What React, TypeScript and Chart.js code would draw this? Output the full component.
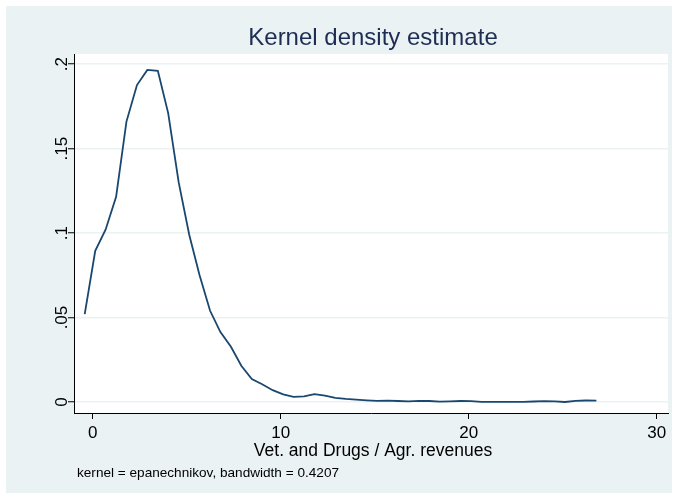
import React, { useEffect, useRef } from "react";
import { Chart, registerables } from "chart.js";

Chart.register(...registerables);

const xGrid = [
  -0.43, 0.13, 0.68, 1.24, 1.79, 2.35, 2.9, 3.46, 4.01, 4.57,
  5.13, 5.68, 6.24, 6.79, 7.35, 7.9, 8.46, 9.01, 9.57, 10.13,
  10.68, 11.24, 11.79, 12.35, 12.9, 13.46, 14.01, 14.57, 15.12, 15.68,
  16.24, 16.79, 17.35, 17.9, 18.46, 19.01, 19.57, 20.12, 20.68, 21.23,
  21.79, 22.35, 22.9, 23.46, 24.01, 24.57, 25.12, 25.68, 26.23, 26.79,
];

const density = [
  0.052, 0.0895, 0.102, 0.1215, 0.166, 0.1876, 0.1966, 0.196, 0.171, 0.13,
  0.099, 0.075, 0.054, 0.0414, 0.0327, 0.0215, 0.0136, 0.0105, 0.007, 0.0045,
  0.0031, 0.0033, 0.0047, 0.0038, 0.0025, 0.0018, 0.0014, 0.001, 0.0007, 0.0008,
  0.0006, 0.0004, 0.0007, 0.0006, 0.0002, 0.0004, 0.0006, 0.0005, 0.0001, 0.0001,
  0.0001, 0.0001, 0.0001, 0.0003, 0.0005, 0.0004, 0.0, 0.0007, 0.0009, 0.0008,
];

const yTicks = [0, 0.05, 0.1, 0.15, 0.2];
const yTickLabels = ["0", ".05", ".1", ".15", ".2"];
const xTicks = [0, 10, 20, 30];

const titleText = "Kernel density estimate";
const xTitleText = "Vet. and Drugs / Agr. revenues";
const noteText = "kernel = epanechnikov, bandwidth = 0.4207";

const FONT = "Arial, 'Liberation Sans', Helvetica, sans-serif";
const BG = "#eaf2f3";
const LINE = "#1a476f";

export default function App() {
  const ref = useRef<HTMLCanvasElement>(null);

  useEffect(() => {
    if (!ref.current) return;
    const bgPlugin = {
      id: "stataBg",
      beforeDraw(chart: any) {
        const { ctx, chartArea } = chart;
        ctx.save();
        ctx.fillStyle = "#ffffff";
        ctx.fillRect(0, 0, chart.width, chart.height);
        ctx.fillStyle = BG;
        ctx.fillRect(6, 6, chart.width - 11, chart.height - 11);
        ctx.fillStyle = "#ffffff";
        ctx.fillRect(chartArea.left, chartArea.top, chartArea.right - chartArea.left, chartArea.bottom - chartArea.top);
        ctx.restore();
      },
    };
    const textPlugin = {
      id: "stataText",
      afterDraw(chart: any) {
        const { ctx, chartArea } = chart;
        const ys = chart.scales.y;
        ctx.save();
        ctx.fillStyle = "#000000";
        ctx.font = `17px ${FONT}`;
        ctx.textAlign = "center";
        ctx.textBaseline = "middle";
        yTicks.forEach((v, i) => {
          const py = ys.getPixelForValue(v);
          ctx.save();
          ctx.translate(62, py);
          ctx.rotate(-Math.PI / 2);
          ctx.fillText(yTickLabels[i], 0, 0);
          ctx.restore();
        });
        const cx = (chartArea.left + chartArea.right) / 2 + 2;
        ctx.fillStyle = "#1e2d53";
        ctx.font = `24px ${FONT}`;
        ctx.fillText(titleText, cx, 38);
        ctx.fillStyle = "#000000";
        ctx.font = `17.5px ${FONT}`;
        ctx.fillText(xTitleText, cx, 451);
        ctx.font = `13.6px ${FONT}`;
        ctx.textAlign = "left";
        ctx.fillText(noteText, 77, 473);
        ctx.restore();
      },
    };

    const chart = new Chart(ref.current, {
      type: "scatter",
      data: {
        datasets: [
          {
            data: xGrid.map((x, i) => ({ x, y: density[i] })),
            showLine: true,
            borderColor: LINE,
            borderWidth: 1.8,
            pointRadius: 0,
            fill: false,
          },
        ],
      },
      options: {
        animation: false,
        responsive: false,
        maintainAspectRatio: false,
        devicePixelRatio: 1,
        layout: { padding: { left: 0, top: 54, right: 9, bottom: 0 } },
        plugins: { legend: { display: false }, tooltip: { enabled: false }, title: { display: false } },
        scales: {
          x: {
            type: "linear",
            min: -1.0,
            max: 30.6,
            afterBuildTicks: (s: any) => {
              s.ticks = xTicks.map((v) => ({ value: v }));
            },
            afterFit: (s: any) => {
              s.height = 85;
            },
            ticks: {
              color: "#000000",
              font: { family: FONT, size: 17 },
              padding: 4,
              maxRotation: 0,
              autoSkip: false,
              callback: (v: any) => String(v),
            },
            grid: { drawOnChartArea: false, tickColor: "#000000", tickLength: 6, tickWidth: 1 },
            border: { color: "#000000", width: 1 },
          },
          y: {
            type: "linear",
            min: -0.0065,
            max: 0.206,
            afterBuildTicks: (s: any) => {
              s.ticks = yTicks.map((v) => ({ value: v }));
            },
            afterFit: (s: any) => {
              s.width = 74;
            },
            ticks: { display: false },
            grid: { color: BG, lineWidth: 1.5, tickColor: "#000000", tickLength: 6, tickWidth: 1 },
            border: { color: "#000000", width: 1 },
          },
        },
      },
      plugins: [bgPlugin, textPlugin],
    });
    return () => chart.destroy();
  }, []);

  return (
    <div style={{ position: "fixed", left: 0, top: 0, width: 677, height: 498 }}>
      <canvas ref={ref} width={677} height={498} style={{ width: 677, height: 498, display: "block" }} />
    </div>
  );
}
